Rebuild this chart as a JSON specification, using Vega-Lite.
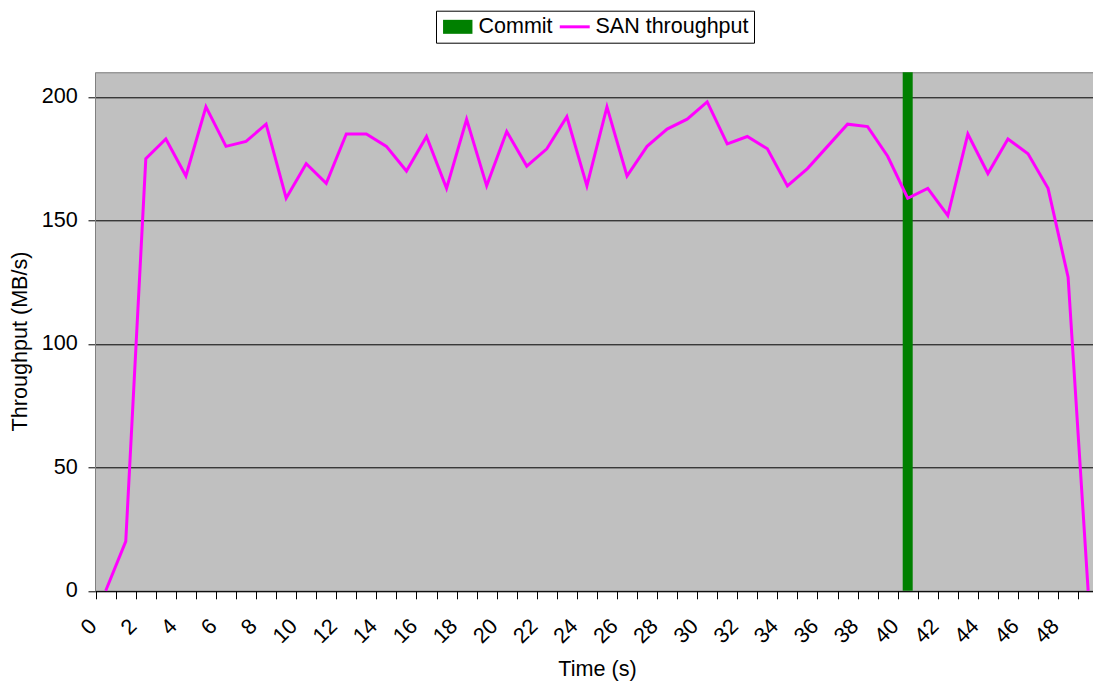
{
  "$schema": "https://vega.github.io/schema/vega-lite/v6.json",
  "autosize": "none",
  "width": 998,
  "height": 518.5,
  "padding": {"left": 95, "top": 72.3, "right": 0, "bottom": 91.2},
  "background": "white",
  "config": {
    "view": {"fill": "#c0c0c0", "stroke": null},
    "font": "Liberation Sans, Arial, sans-serif",
    "axis": {
      "labelFont": "Liberation Sans, Arial, sans-serif",
      "titleFont": "Liberation Sans, Arial, sans-serif",
      "labelColor": "black",
      "titleColor": "black",
      "titleFontWeight": "normal",
      "labelFontSize": 21.6,
      "titleFontSize": 21.6
    }
  },
  "encoding": {
    "x": {
      "field": "t",
      "type": "quantitative",
      "scale": {"domain": [-0.534, 49.242], "nice": false, "zero": false, "padding": 0},
      "axis": {
        "values": [-0.5, 0.5, 1.5, 2.5, 3.5, 4.5, 5.5, 6.5, 7.5, 8.5, 9.5, 10.5, 11.5, 12.5, 13.5, 14.5, 15.5, 16.5, 17.5, 18.5, 19.5, 20.5, 21.5, 22.5, 23.5, 24.5, 25.5, 26.5, 27.5, 28.5, 29.5, 30.5, 31.5, 32.5, 33.5, 34.5, 35.5, 36.5, 37.5, 38.5, 39.5, 40.5, 41.5, 42.5, 43.5, 44.5, 45.5, 46.5, 47.5, 48.5],
        "labelExpr": "(datum.value + 0.5) % 2 === 0 ? format(datum.value + 0.5, 'd') : ''",
        "labelAngle": -45,
        "labelAlign": "right",
        "labelBaseline": "middle",
        "labelOffset": -2.5,
        "labelPadding": 24,
        "labelOverlap": false,
        "labelFlush": false,
        "labelBound": false,
        "tickSize": 8,
        "tickColor": "black",
        "domainColor": "black",
        "grid": false,
        "title": "Time (s)",
        "titleX": 502,
        "titleY": 85,
        "titleBaseline": "alphabetic",
        "titleAlign": "center",
        "titleAngle": 0
      }
    },
    "y": {
      "field": "v",
      "type": "quantitative",
      "scale": {"domain": [0, 210], "nice": false, "zero": true, "padding": 0},
      "axis": {
        "values": [0, 50, 100, 150, 200, 210],
        "labelExpr": "datum.value === 210 ? '' : datum.label",
        "grid": true,
        "gridColor": {"condition": {"test": "datum.value === 210", "value": "#808080"}, "value": "#000000"},
        "gridWidth": 1,
        "tickColor": {"condition": {"test": "datum.value === 210", "value": "transparent"}, "value": "#000000"},
        "tickSize": 7,
        "domainColor": "#808080",
        "labelPadding": 10.7,
        "labelOverlap": false,
        "labelFlush": false,
        "title": "Throughput (MB/s)",
        "titleAngle": -90,
        "titleX": -68.3,
        "titleY": 268.7,
        "titleBaseline": "alphabetic",
        "titleAlign": "center"
      }
    }
  },
  "layer": [
    {
      "data": {"values": [{"t": 40, "v": 210, "series": "Commit"}]},
      "mark": {"type": "bar", "size": 10},
      "encoding": {
        "color": {
          "field": "series",
          "type": "nominal",
          "scale": {"domain": ["Commit", "SAN throughput"], "range": ["#008000", "#ff00ff"]},
          "legend": {
            "orient": "none",
            "legendX": 341,
            "legendY": -61.6,
            "direction": "horizontal",
            "title": null,
            "padding": 5,
            "strokeColor": "black",
            "fillColor": "white",
            "symbolSize": 196,
            "symbolStrokeWidth": 3,
            "symbolOffset": 6,
            "labelOffset": 10,
            "columnPadding": 0,
            "labelFontSize": 21.5,
            "labelColor": "black",
            "labelFont": "Liberation Sans, Arial, sans-serif",
            "encode": {
              "symbols": {
                "update": {
                  "shape": {"signal": "datum.value === 'Commit' ? 'M-2.1,-1H2.1V1H-2.1Z' : 'M-2.14,0H2.14'"},
                  "fill": {"signal": "datum.value === 'Commit' ? '#008000' : 'transparent'"},
                  "stroke": {"signal": "datum.value === 'Commit' ? 'transparent' : '#ff00ff'"},
                  "strokeWidth": {"signal": "datum.value === 'Commit' ? 0 : 3"},
                  "opacity": {"value": 1}
                }
              }
            }
          }
        }
      }
    },
    {
      "data": {
        "values": [
          {"t": 0, "v": 0}, {"t": 1, "v": 20}, {"t": 2, "v": 175}, {"t": 3, "v": 183}, {"t": 4, "v": 168},
          {"t": 5, "v": 196}, {"t": 6, "v": 180}, {"t": 7, "v": 182}, {"t": 8, "v": 189}, {"t": 9, "v": 159},
          {"t": 10, "v": 173}, {"t": 11, "v": 165}, {"t": 12, "v": 185}, {"t": 13, "v": 185}, {"t": 14, "v": 180},
          {"t": 15, "v": 170}, {"t": 16, "v": 184}, {"t": 17, "v": 163}, {"t": 18, "v": 191}, {"t": 19, "v": 164},
          {"t": 20, "v": 186}, {"t": 21, "v": 172}, {"t": 22, "v": 179}, {"t": 23, "v": 192}, {"t": 24, "v": 164},
          {"t": 25, "v": 196}, {"t": 26, "v": 168}, {"t": 27, "v": 180}, {"t": 28, "v": 187}, {"t": 29, "v": 191},
          {"t": 30, "v": 198}, {"t": 31, "v": 181}, {"t": 32, "v": 184}, {"t": 33, "v": 179}, {"t": 34, "v": 164},
          {"t": 35, "v": 171}, {"t": 36, "v": 180}, {"t": 37, "v": 189}, {"t": 38, "v": 188}, {"t": 39, "v": 176},
          {"t": 40, "v": 159}, {"t": 41, "v": 163}, {"t": 42, "v": 152}, {"t": 43, "v": 185}, {"t": 44, "v": 169},
          {"t": 45, "v": 183}, {"t": 46, "v": 177}, {"t": 47, "v": 163}, {"t": 48, "v": 127}, {"t": 49, "v": 0}
        ]
      },
      "mark": {"type": "line", "strokeWidth": 3},
      "encoding": {
        "color": {"datum": "SAN throughput", "type": "nominal"}
      }
    }
  ]
}
